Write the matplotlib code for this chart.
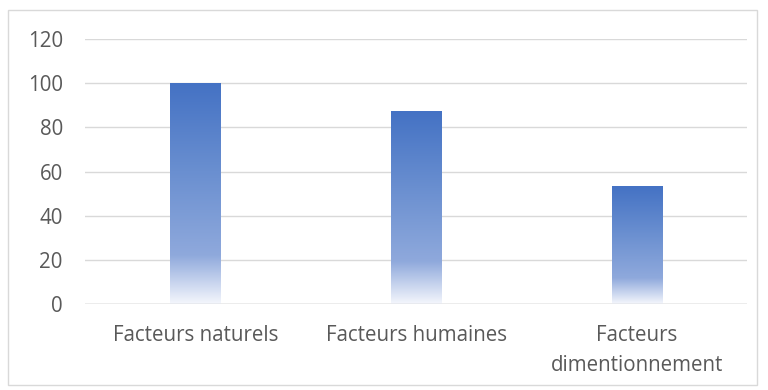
import matplotlib.pyplot as plt
import numpy as np
from matplotlib.colors import LinearSegmentedColormap
from matplotlib.patches import Rectangle

# categories and values
categories = ["Facteurs naturels", "Facteurs humaines", "Facteurs\ndimentionnement"]
values = [100, 87, 53]
yticks = [0, 20, 40, 60, 80, 100, 120]

plt.rcParams['font.family'] = ['Open Sans', 'DejaVu Sans']

# excel style gradient fill, white at the bottom, blue at the top
grad = LinearSegmentedColormap.from_list(
    "bargrad",
    [(0.0, "#f4f6fc"), (0.22, "#8fa9dc"), (0.6, "#6a8fd0"), (1.0, "#4472c4")])

fig = plt.figure(figsize=(7.68, 3.90), dpi=100)
ax = fig.add_axes([0.1107, 0.2205, 0.862, 0.6795])

width = 0.227
x = np.arange(len(categories))
ramp = np.linspace(0, 1, 256).reshape(-1, 1)
for xi, v in zip(x, values):
    ax.imshow(ramp, cmap=grad, origin="lower", aspect="auto",
              extent=(xi - width / 2, xi + width / 2, 0, v), zorder=3,
              interpolation="bilinear")

ax.set_xlim(-0.5, len(categories) - 0.5)
ax.set_ylim(0, 120)
ax.set_yticks(yticks)
ax.set_xticks(x)
ax.set_xticklabels(categories, linespacing=1.6)
ax.grid(axis="y", color="#d9d9d9", linewidth=1, zorder=0)
ax.axhline(0, color="#bfbfbf", linewidth=1, zorder=4)
for s in ax.spines.values():
    s.set_visible(False)
ax.tick_params(length=0, labelsize=14.8, labelcolor="#595959")
ax.tick_params(axis="x", pad=15)
ax.tick_params(axis="y", pad=16)

# outer chart border
fig.patches.append(Rectangle((8 / 768, 5 / 390), 749 / 768, 375 / 390,
                             transform=fig.transFigure, fill=False,
                             edgecolor="#d9d9d9", linewidth=1))

fig.savefig("out.png", dpi=100)
